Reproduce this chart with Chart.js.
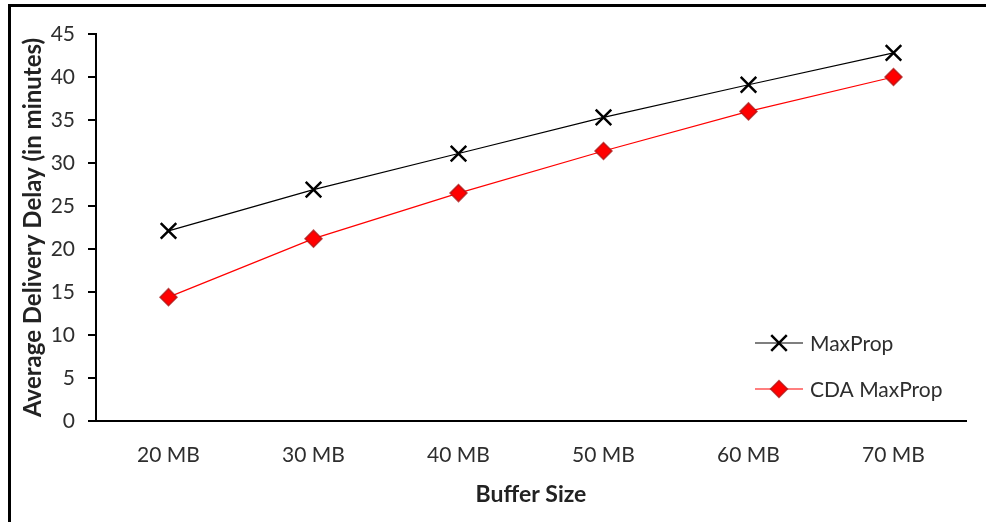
<!DOCTYPE html>
<html>
<head>
<meta charset="utf-8">
<script src="https://cdn.jsdelivr.net/npm/chart.js@4"></script>
<style>
  html, body { margin: 0; padding: 0; background: #fff; overflow: hidden; }
  #wrap { position: relative; width: 986px; height: 522px; }
  #frame { position: absolute; left: 8px; top: 4px; width: 1100px; height: 700px; border: 3px solid #000; box-sizing: border-box; pointer-events: none; }
  canvas { position: absolute; left: 0; top: 0; }
</style>
</head>
<body>
<div id="wrap">
  <canvas id="c" width="986" height="522"></canvas>
  <div id="frame"></div>
</div>
<script>
const categories = ['20 MB', '30 MB', '40 MB', '50 MB', '60 MB', '70 MB'];
const maxPropValues = [22.1, 26.9, 31.1, 35.3, 39.1, 42.8];
const cdaMaxPropValues = [14.4, 21.2, 26.5, 31.4, 36.0, 40.0];
const yTicks = [0, 5, 10, 15, 20, 25, 30, 35, 40, 45];
const xTitle = 'Buffer Size';
const yTitle = 'Average Delivery Delay (in minutes)';

const FONT = 'Lato, "Open Sans", sans-serif';
const TICK_COLOR = '#2e2e2e';
const TITLE_COLOR = '#222222';

const legendPlugin = {
  id: 'insideLegend',
  afterDraw(chart) {
    const ctx = chart.ctx;
    const rows = [343, 389];
    chart.data.datasets.forEach((ds, i) => {
      const y = rows[i];
      ctx.save();
      ctx.strokeStyle = ds.borderColor;
      ctx.lineWidth = ds.borderWidth;
      ctx.beginPath();
      ctx.moveTo(755, y);
      ctx.lineTo(803, y);
      ctx.stroke();
      ctx.fillStyle = ds.pointBackgroundColor;
      ctx.strokeStyle = ds.pointBorderColor;
      ctx.lineWidth = ds.pointBorderWidth;
      Chart.helpers.drawPoint(ctx, {
        pointStyle: ds.pointStyle,
        radius: ds.pointRadius,
        rotation: 0,
        borderWidth: ds.pointBorderWidth
      }, 779, y);
      ctx.fillStyle = TICK_COLOR;
      ctx.font = '21px ' + FONT;
      ctx.textBaseline = 'middle';
      ctx.textAlign = 'left';
      ctx.fillText(ds.label, 810, y + 1);
      ctx.restore();
    });
  }
};

new Chart(document.getElementById('c'), {
  type: 'line',
  data: {
    labels: categories,
    datasets: [
      {
        label: 'MaxProp',
        data: maxPropValues,
        borderColor: '#000000',
        borderWidth: 1.2,
        pointStyle: 'crossRot',
        pointRadius: 11,
        pointHoverRadius: 11,
        pointBorderWidth: 2.5,
        pointBorderColor: '#000000',
        pointBackgroundColor: '#000000',
        tension: 0,
        fill: false
      },
      {
        label: 'CDA MaxProp',
        data: cdaMaxPropValues,
        borderColor: '#ff0000',
        borderWidth: 1.2,
        pointStyle: 'rectRot',
        pointRadius: 8.5,
        pointHoverRadius: 8.5,
        pointBorderWidth: 1.5,
        pointBorderColor: 'rgba(170,20,20,0.75)',
        pointBackgroundColor: '#ff0000',
        tension: 0,
        fill: false
      }
    ]
  },
  options: {
    responsive: false,
    animation: false,
    devicePixelRatio: 1,
    layout: { padding: { left: 0, top: 34, right: 20, bottom: 0 } },
    plugins: {
      legend: { display: false },
      tooltip: { enabled: false },
      title: { display: false }
    },
    scales: {
      x: {
        offset: true,
        grid: { display: true, drawOnChartArea: false, drawTicks: false, color: 'rgba(0,0,0,0)' },
        border: { display: true, color: '#000000', width: 2 },
        ticks: { color: TICK_COLOR, font: { family: FONT, size: 21 }, padding: 22, maxRotation: 0 },
        title: { display: true, text: xTitle, color: TITLE_COLOR, font: { family: FONT, size: 23, weight: 'bold' }, padding: { top: 0, bottom: 14 } },
        afterFit(s) { s.height = 101; }
      },
      y: {
        min: 0,
        max: 45,
        afterBuildTicks(s) { s.ticks = yTicks.map(v => ({ value: v })); },
        grid: { display: true, drawOnChartArea: false, drawTicks: true, tickLength: 8, color: '#000000', lineWidth: 2 },
        border: { display: true, color: '#000000', width: 2 },
        ticks: { color: TICK_COLOR, font: { family: FONT, size: 21 }, padding: 13 },
        title: { display: true, text: yTitle, color: TITLE_COLOR, font: { family: FONT, size: 24, weight: 'bold' }, padding: { top: 19, bottom: 0 } },
        afterFit(s) { s.width = 96; }
      }
    }
  },
  plugins: [legendPlugin]
});
</script>
</body>
</html>
